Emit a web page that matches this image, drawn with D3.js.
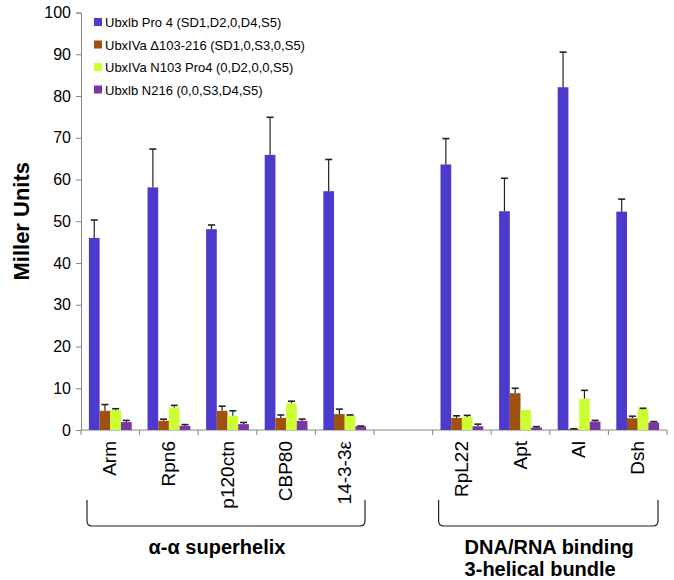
<!DOCTYPE html>
<html>
<head>
<meta charset="utf-8">
<script src="https://cdn.jsdelivr.net/npm/d3@7"></script>
<style>
  body { margin: 0; background: #fff; }
  text { font-family: Arial, "Liberation Sans", sans-serif; }
</style>
</head>
<body>
<div id="chart"></div>
<script>
const categories = ['Arm', 'Rpn6', 'p120ctn', 'CBP80', '14-3-3\u03b5', '', 'RpL22', 'Apt', 'Al', 'Dsh']
const seriesNames = [
  'Ubxlb Pro 4 (SD1,D2,0,D4,S5)',
  'UbxIVa \u0394103-216 (SD1,0,S3,0,S5)',
  'UbxIVa N103 Pro4 (0,D2,0,0,S5)',
  'Ubxlb N216 (0,0,S3,D4,S5)'
]
const seriesColors = ['#4B3ACB', '#A0500F', '#CCFF33', '#7A35A8']
const proValues    = [46.0, 58.1, 48.1, 65.9, 57.2, null, 63.6, 52.4, 82.1, 52.3]
const proErr       = [4.3, 9.2, 1.0, 9.0, 7.6, null, 6.2, 7.9, 8.4, 3.0]
const deltaValues  = [4.6, 2.2, 4.6, 2.9, 3.8, null, 2.9, 8.8, 0.2, 2.8]
const deltaErr     = [1.5, 0.4, 1.1, 0.7, 1.2, null, 0.5, 1.2, 0.1, 0.5]
const n103Values   = [4.8, 5.4, 3.4, 6.4, 3.5, null, 3.1, 4.8, 7.5, 5.0]
const n103Err      = [0.3, 0.5, 1.2, 0.5, 0.1, null, 0.4, 0, 2.0, 0.2]
const n216Values   = [1.9, 1.0, 1.4, 2.2, 0.9, null, 0.9, 0.6, 2.0, 1.8]
const n216Err      = [0.4, 0.3, 0.4, 0.4, 0.05, null, 0.5, 0.2, 0.3, 0.2]
const yTicks = [0, 10, 20, 30, 40, 50, 60, 70, 80, 90, 100]
const groupLabels = [['\u03b1-\u03b1 superhelix'], ['DNA/RNA binding', '3-helical bundle']]
const groupRanges = [[0, 4], [6, 9]]

const allValues = [proValues, deltaValues, n103Values, n216Values]
const allErr = [proErr, deltaErr, n103Err, n216Err]

var margin = { top: 12.5, right: 7, bottom: 150, left: 81 }
var width = 674 - margin.left - margin.right
var height = 580 - margin.top - margin.bottom

var svg = d3.select('#chart').append('svg')
  .attr('width', 674)
  .attr('height', 580)
var g = svg.append('g').attr('transform', `translate(${margin.left},${margin.top})`)

var x0 = d3.scaleBand().domain(d3.range(categories.length)).range([0, width]).padding(0)
var x1 = d3.scaleBand().domain(d3.range(seriesNames.length)).range([0, x0.bandwidth()])
  .paddingInner(0).paddingOuter(0.74)
var y = d3.scaleLinear().domain([0, 100]).range([height, 0])

// y axis
var yAxis = g.append('g')
  .call(d3.axisLeft(y).tickValues(yTicks).tickSize(5).tickPadding(5))
yAxis.select('.domain').attr('stroke', '#868686')
yAxis.selectAll('.tick line').attr('stroke', '#868686')
yAxis.selectAll('.tick text').style('font-size', '16px').attr('fill', '#000')

// x axis line + ticks at slot boundaries
g.append('line')
  .attr('x1', 0).attr('x2', width)
  .attr('y1', height).attr('y2', height)
  .attr('stroke', '#868686')
g.selectAll('.xtick')
  .data(d3.range(categories.length + 1))
  .enter().append('line')
  .attr('x1', d => d * x0.step()).attr('x2', d => d * x0.step())
  .attr('y1', height).attr('y2', height + 5)
  .attr('stroke', '#868686')

// bars
var rows = []
categories.forEach((c, i) => {
  allValues.forEach((vals, s) => {
    if (vals[i] != null) rows.push({ i: i, s: s, v: vals[i], e: allErr[s][i] })
  })
})

g.selectAll('.bar')
  .data(rows)
  .enter().append('rect')
  .attr('x', d => x0(d.i) + x1(d.s))
  .attr('y', d => y(d.v))
  .attr('width', x1.bandwidth())
  .attr('height', d => height - y(d.v))
  .attr('fill', d => seriesColors[d.s])

// error bars (upper only)
var errRows = rows.filter(d => d.e > 0)
g.selectAll('.err')
  .data(errRows)
  .enter().append('line')
  .attr('x1', d => x0(d.i) + x1(d.s) + x1.bandwidth() / 2)
  .attr('x2', d => x0(d.i) + x1(d.s) + x1.bandwidth() / 2)
  .attr('y1', d => y(d.v))
  .attr('y2', d => y(d.v + d.e))
  .attr('stroke', '#222').attr('stroke-width', 1.2)
g.selectAll('.cap')
  .data(errRows)
  .enter().append('line')
  .attr('x1', d => x0(d.i) + x1(d.s) + x1.bandwidth() / 2 - 3.5)
  .attr('x2', d => x0(d.i) + x1(d.s) + x1.bandwidth() / 2 + 3.5)
  .attr('y1', d => y(d.v + d.e))
  .attr('y2', d => y(d.v + d.e))
  .attr('stroke', '#222').attr('stroke-width', 1.6)

// category labels
g.selectAll('.cat')
  .data(categories)
  .enter().append('text')
  .attr('transform', (d, i) => `translate(${x0(i) + x0.bandwidth() / 2 + 6},${height + 11}) rotate(-90)`)
  .attr('text-anchor', 'end')
  .style('font-size', '19px')
  .text(d => d)

// brackets
groupRanges.forEach((r, k) => {
  var xa = x0(r[0]) + 6
  var xb = x0(r[1]) + x0.bandwidth() - 9
  var yt = height + 70, yb = height + 96, rad = 5
  g.append('path')
    .attr('d', `M${xa},${yt} L${xa},${yb - rad} Q${xa},${yb} ${xa + rad},${yb} L${xb - rad},${yb} Q${xb},${yb} ${xb},${yb - rad} L${xb},${yt}`)
    .attr('fill', 'none').attr('stroke', '#222').attr('stroke-width', 1.2)
  var lab = g.append('text')
    .style('font-size', '20px').style('font-weight', 'bold')
  if (k === 0) {
    lab.attr('x', (xa + xb) / 2 - 9).attr('y', height + 124).attr('text-anchor', 'middle')
      .text(groupLabels[k][0])
  } else {
    groupLabels[k].forEach((t, j) => {
      lab.append('tspan').attr('x', xa + 26).attr('y', height + 124 + j * 22).text(t)
    })
  }
})

// y title
svg.append('text')
  .attr('transform', `translate(29,${margin.top + height / 2}) rotate(-90)`)
  .attr('text-anchor', 'middle')
  .style('font-size', '22px').style('font-weight', 'bold')
  .text('Miller Units')

// legend
var legend = svg.selectAll('.legend')
  .data(seriesNames)
  .enter().append('g')
  .attr('transform', (d, i) => `translate(94,${22.5 + i * 22.5})`)
legend.append('rect')
  .attr('x', 0).attr('y', -4.5).attr('width', 8).attr('height', 8)
  .attr('fill', (d, i) => seriesColors[i])
legend.append('text')
  .attr('x', 11).attr('y', 4.5)
  .style('font-size', '13px')
  .text(d => d)
</script>
</body>
</html>
